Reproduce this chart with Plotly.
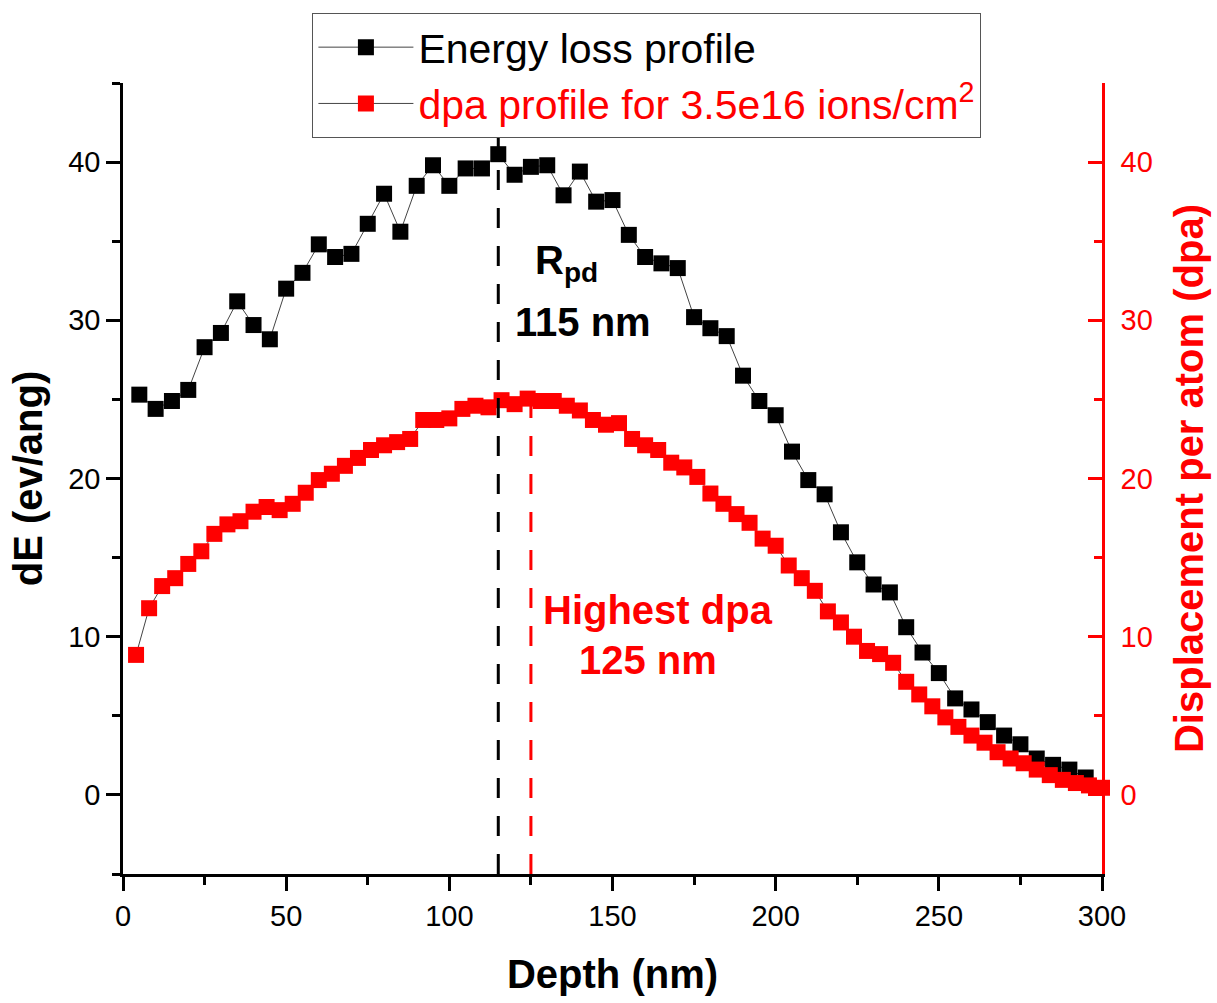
import plotly.graph_objects as go

# Energy loss profile (dE, eV/Å) sampled every 5 nm
depth_energy = list(range(5, 300, 5))
energy_loss = [
    25.3, 24.4, 24.9, 25.6, 28.3, 29.2, 31.2, 29.7, 28.8, 32.0,
    33.0, 34.8, 34.0, 34.2, 36.1, 38.0, 35.6, 38.5, 39.8, 38.5,
    39.6, 39.6, 40.5, 39.2, 39.7, 39.8, 37.9, 39.4, 37.5, 37.6,
    35.4, 34.0, 33.6, 33.3, 30.2, 29.5, 29.0, 26.5, 24.9, 24.0,
    21.7, 19.9, 19.0, 16.6, 14.7, 13.3, 12.8, 10.6, 9.0, 7.7,
    6.1, 5.4, 4.6, 3.75, 3.2, 2.3, 1.9, 1.6, 1.1,
]

# dpa profile for 3.5e16 ions/cm^2 sampled every 4 nm
depth_dpa = list(range(4, 301, 4))
dpa = [
    8.85, 11.8, 13.2, 13.7, 14.6, 15.4, 16.5, 17.1, 17.3, 17.9,
    18.2, 18.0, 18.4, 19.1, 19.9, 20.3, 20.8, 21.3, 21.8, 22.1,
    22.3, 22.5, 23.7, 23.7, 23.8, 24.4, 24.6, 24.5, 24.95, 24.7,
    25.05, 24.9, 24.9, 24.6, 24.3, 23.7, 23.4, 23.5, 22.5, 22.1,
    21.8, 21.0, 20.7, 20.1, 19.05, 18.4, 17.75, 17.2, 16.2, 15.75,
    14.5, 13.7, 12.9, 11.6, 10.9, 10.0, 9.1, 8.9, 8.35, 7.15,
    6.35, 5.6, 4.9, 4.3, 3.75, 3.3, 2.7, 2.3, 2.0, 1.6,
    1.25, 0.95, 0.75, 0.6, 0.45,
]
assert len(depth_energy) == len(energy_loss)
assert len(depth_dpa) == len(dpa)

# Marked depths
rpd_depth = 115
peak_dpa_depth = 125

x_ticks = [0, 50, 100, 150, 200, 250, 300]
y_ticks = [0, 10, 20, 30, 40]
y_range = [-5, 45]

FONT = "Liberation Sans, Arial, sans-serif"
RED = "#ff0000"

fig = go.Figure()

fig.add_trace(go.Scatter(
    x=depth_energy, y=energy_loss, mode="lines+markers",
    name="Energy loss profile",
    line=dict(color="#444444", width=1),
    marker=dict(symbol="square", size=16, color="black",
                line=dict(width=0)),
    cliponaxis=False,
))

fig.add_trace(go.Scatter(
    x=depth_dpa, y=dpa, mode="lines+markers", yaxis="y2",
    name='<span style="color:#ff0000">dpa profile for 3.5e16 ions/cm<sup>2</sup></span>',
    line=dict(color="#444444", width=1),
    marker=dict(symbol="square", size=16, color=RED,
                line=dict(width=0)),
    cliponaxis=False,
))

# Vertical reference lines at the projected range and the dpa peak
fig.add_shape(type="line", xref="x", yref="y",
              x0=rpd_depth, x1=rpd_depth, y0=y_range[0], y1=y_range[1],
              line=dict(color="black", width=3, dash="20px,18px"),
              layer="above")
fig.add_shape(type="line", xref="x", yref="y2",
              x0=peak_dpa_depth, x1=peak_dpa_depth, y0=y_range[0], y1=25.05,
              line=dict(color=RED, width=3, dash="20px,18px"),
              layer="above")

annot_font_black = dict(family=FONT, size=40, color="black")
annot_font_red = dict(family=FONT, size=40, color=RED)
fig.add_annotation(x=136, y=33.6, xref="x", yref="y", showarrow=False,
                   text="<b>R<sub>pd</sub></b>", font=annot_font_black)
fig.add_annotation(x=141, y=29.9, xref="x", yref="y", showarrow=False,
                   text="<b>115 nm</b>", font=annot_font_black)
fig.add_annotation(x=164, y=11.7, xref="x", yref="y", showarrow=False,
                   text="<b>Highest dpa</b>", font=annot_font_red)
fig.add_annotation(x=161, y=8.5, xref="x", yref="y", showarrow=False,
                   text="<b>125 nm</b>", font=annot_font_red)

tick_font = dict(family=FONT, size=29, color="black")

fig.update_layout(
    width=1217, height=1003,
    margin=dict(l=123, r=112, t=83, b=129),
    paper_bgcolor="white", plot_bgcolor="white",
    font=dict(family=FONT, color="black"),
    showlegend=True,
    legend=dict(
        x=(313 - 123) / 982, y=(874 - 13) / 791,
        xanchor="left", yanchor="top",
        bgcolor="white", bordercolor="#555555", borderwidth=1,
        font=dict(family=FONT, size=41, color="black"),
        itemwidth=95, tracegroupgap=0,
    ),
    xaxis=dict(
        range=[0, 300], tickvals=x_ticks,
        showgrid=False, zeroline=False,
        showline=True, linecolor="black", linewidth=2.5,
        ticks="outside", ticklen=14, tickwidth=2.5, tickcolor="black",
        tickfont=tick_font,
        minor=dict(dtick=25, tick0=0, ticks="outside", ticklen=8,
                   tickwidth=2.5, tickcolor="black"),
        title=dict(text="<b>Depth (nm)</b>",
                   font=dict(family=FONT, size=40, color="black"),
                   standoff=30),
    ),
    yaxis=dict(
        range=y_range, tickvals=y_ticks,
        showgrid=False, zeroline=False,
        showline=True, linecolor="black", linewidth=2.5,
        ticks="outside", ticklen=14, tickwidth=2.5, tickcolor="black",
        tickfont=tick_font,
        minor=dict(dtick=5, tick0=0, ticks="outside", ticklen=8,
                   tickwidth=2.5, tickcolor="black"),
        title=dict(text="<b>dE (ev/ang)</b>",
                   font=dict(family=FONT, size=40, color="black"),
                   standoff=14),
    ),
    yaxis2=dict(
        range=y_range, tickvals=y_ticks, overlaying="y", side="right",
        showgrid=False, zeroline=False,
        showline=True, linecolor=RED, linewidth=2.5,
        ticks="inside", ticklen=14, tickwidth=2.5, tickcolor=RED,
        ticklabelstandoff=10,
        tickfont=dict(family=FONT, size=29, color=RED),
        minor=dict(dtick=5, tick0=0, ticks="inside", ticklen=8,
                   tickwidth=2.5, tickcolor=RED),
        title=dict(text="<b>Displacement per atom (dpa)</b>",
                   font=dict(family=FONT, size=40, color=RED),
                   standoff=24),
    ),
)

fig.write_html("out.html")
